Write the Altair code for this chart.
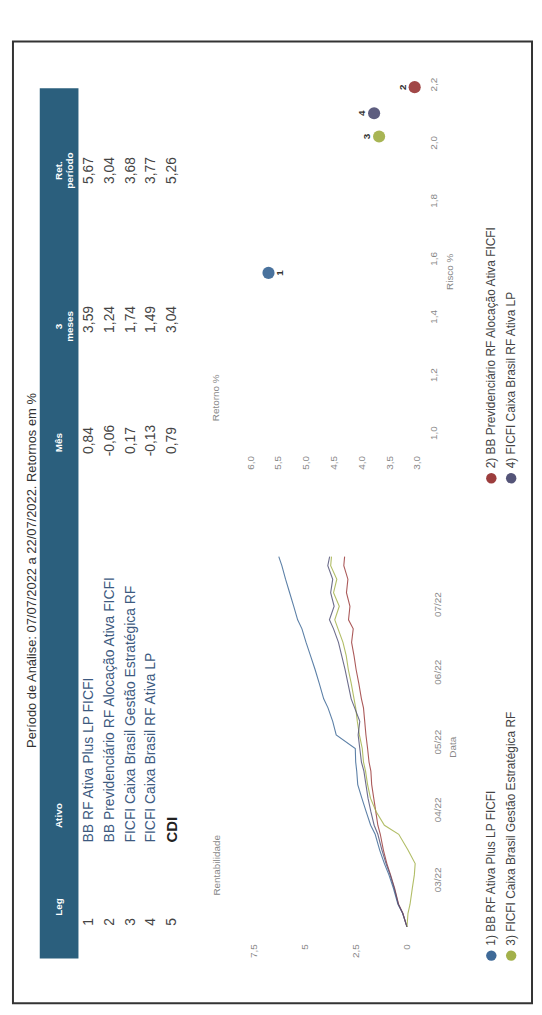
import altair as alt
import pandas as pd

# ---------------- data ----------------
series = ["1) BB RF Ativa Plus LP FICFI",
          "2) BB Previdenciário RF Alocação Ativa FICFI",
          "3) FICFI Caixa Brasil Gestão Estratégica RF",
          "4) FICFI Caixa Brasil RF Ativa LP"]
colors = ["#3f6a98", "#9c3d3d", "#a3b14b", "#545478"]

header_cols = ["Leg", "Ativo", "Mês", "3 meses", "Ret. período"]
leg = ["1", "2", "3", "4", "5"]
ativos = ["BB RF Ativa Plus LP FICFI",
          "BB Previdenciário RF Alocação Ativa FICFI",
          "FICFI Caixa Brasil Gestão Estratégica RF",
          "FICFI Caixa Brasil RF Ativa LP",
          "CDI"]
mes = ["0,84", "-0,06", "0,17", "-0,13", "0,79"]
tres_meses = ["3,59", "1,24", "1,74", "1,49", "3,04"]
ret_periodo = ["5,67", "3,04", "3,68", "3,77", "5,26"]

dates = ["2022-02-08", "2022-02-14", "2022-02-18", "2022-02-25", "2022-03-03",
         "2022-03-08", "2022-03-14", "2022-03-21", "2022-03-25", "2022-03-31",
         "2022-04-06", "2022-04-12", "2022-04-18", "2022-04-22", "2022-04-28",
         "2022-05-04", "2022-05-10", "2022-05-16", "2022-05-20", "2022-05-27",
         "2022-06-02", "2022-06-08", "2022-06-14", "2022-06-20", "2022-06-24",
         "2022-06-30", "2022-07-06", "2022-07-12", "2022-07-18", "2022-07-22"]
rent_1 = [0.00, 0.21, 0.44, 0.66, 0.88, 1.10, 1.33, 1.55, 1.77, 1.99,
          2.20, 2.40, 2.45, 2.50, 2.52, 3.45, 3.62, 3.85, 4.06, 4.28,
          4.48, 4.70, 4.92, 5.12, 5.33, 5.52, 5.72, 5.92, 6.10, 6.25]
rent_2 = [0.00, 0.20, 0.41, 0.60, 0.80, 0.98, 1.15, 1.30, 1.42, 1.52,
          1.62, 1.72, 1.76, 1.85, 1.92, 2.00, 2.06, 2.12, 2.22, 2.35,
          2.48, 2.58, 2.70, 2.62, 2.85, 2.78, 2.95, 2.88, 3.08, 3.04]
rent_3 = [0.00, -0.05, -0.15, -0.26, -0.36, -0.40, -0.05, 0.40, 1.10, 1.50,
          1.78, 1.92, 2.02, 2.12, 2.18, 2.32, 2.42, 2.50, 2.58, 2.72,
          2.86, 2.96, 3.12, 3.36, 3.52, 3.30, 3.58, 3.42, 3.72, 3.68]
rent_4 = [0.00, 0.21, 0.42, 0.62, 0.82, 1.02, 1.22, 1.42, 1.60, 1.76,
          1.90, 2.00, 2.10, 2.22, 2.30, 2.38, 2.30, 2.55, 2.72, 2.88,
          3.02, 3.18, 3.34, 3.58, 3.78, 3.55, 3.72, 3.62, 3.86, 3.77]

retorno = [5.67, 3.04, 3.68, 3.77]
risco = [1.55, 2.19, 2.02, 2.10]
point_labels = ["1", "2", "3", "4"]

rent_ticks = [0, 2.5, 5, 7.5]
retorno_ticks = [3.0, 3.5, 4.0, 4.5, 5.0, 5.5, 6.0]
risco_ticks = [1.0, 1.2, 1.4, 1.6, 1.8, 2.0, 2.2]

# ---------------- tables ----------------
W, H = 523, 969
FONT = "Liberation Sans"
cscale = alt.Scale(domain=series, range=colors)

table_df = pd.DataFrame({"row": [1, 2, 3, 4, 5], "leg": leg, "ativo": ativos,
                         "mes": mes, "tres": tres_meses, "ret": ret_periodo})
lines_df = pd.DataFrame({
    "fecha": dates * 4,
    "valor": rent_1 + rent_2 + rent_3 + rent_4,
    "serie": sum([[s] * len(dates) for s in series], []),
})
scatter_df = pd.DataFrame({"serie": series, "retorno": retorno,
                           "risco": risco, "lab": point_labels})
legend_df = pd.DataFrame({"serie": series,
                          "lrow": [i // 2 for i in range(4)],
                          "lcol": [i % 2 for i in range(4)]})


def static_text(txt, x, y, size=11, color="#555", weight="normal",
                align="center"):
    return alt.Chart(pd.DataFrame({"t": [txt]})).mark_text(
        angle=270, align=align, baseline="middle", fontSize=size,
        color=color, fontWeight=weight, lineBreak="\n", font=FONT
    ).encode(x=alt.value(x), y=alt.value(y), text="t:N")


layers = []

# title
layers.append(static_text("Período de Análise: 07/07/2022 a 22/07/2022. Retornos em %",
                          19, 533, size=13, color="#333"))

# header bar
layers.append(alt.Chart(pd.DataFrame({"a": [0]})).mark_rect(color="#2b5f7d").encode(
    x=alt.value(27), x2=alt.value(66), y=alt.value(47), y2=alt.value(924)))

header_pos = {"Leg": 872, "Ativo": 780, "Mês": 404, "3 meses": 287,
              "Ret. período": 130}
header_txt = {"Leg": "Leg", "Ativo": "Ativo", "Mês": "Mês",
              "3 meses": "3\nmeses", "Ret. período": "Ret.\nperíodo"}
for h in header_cols:
    layers.append(static_text(header_txt[h], 46, header_pos[h], size=10,
                              color="white", weight="bold"))

rowx = alt.X("row:Q", scale=alt.Scale(domain=[1, 5], range=[77, 160], nice=False, zero=False),
             axis=None)
col_specs = [("leg", 887, "center", "#444"), ("mes", 402, "center", "#444"),
             ("tres", 280, "center", "#444"), ("ret", 130, "center", "#444")]
for field, yv, al, colr in col_specs:
    layers.append(alt.Chart(table_df).mark_text(
        angle=270, align=al, baseline="middle", fontSize=14, color=colr, font=FONT
    ).encode(x=rowx, y=alt.value(yv), text=f"{field}:N"))

layers.append(alt.Chart(table_df).transform_filter("datum.ativo != 'CDI'").mark_text(
    angle=270, align="left", baseline="middle", fontSize=14, color="#3d5a80", font=FONT
).encode(x=rowx, y=alt.value(807), text="ativo:N"))
layers.append(alt.Chart(table_df).transform_filter("datum.ativo == 'CDI'").mark_text(
    angle=270, align="left", baseline="middle", fontSize=15, color="#222",
    fontWeight="bold", font=FONT
).encode(x=rowx, y=alt.value(807), text="ativo:N"))

# ---------------- line chart ----------------
def dt(y, m, d):
    return alt.DateTime(year=y, month=m, date=d)

date_ticks = [dt(2022, 3, 1), dt(2022, 4, 1), dt(2022, 5, 1),
              dt(2022, 6, 1), dt(2022, 7, 1)]

axis_style = dict(domain=False, ticks=False, tickSize=0, grid=False, title=None,
                  labelColor="#888", labelFontSize=10, labelPadding=2, labelFont=FONT)

layers.append(alt.Chart(lines_df).mark_line(strokeWidth=1.1, opacity=0.85).encode(
    x=alt.X("valor:Q",
            scale=alt.Scale(domain=[0, 7.5], range=[397, 242], nice=False, zero=False),
            axis=alt.Axis(orient="bottom", offset=-62, values=rent_ticks, format=".1~f",
                          labelAngle=270, labelAlign="right", labelBaseline="middle",
                          **axis_style)),
    y=alt.Y("fecha:T",
            scale=alt.Scale(domain=[dt(2022, 2, 8), dt(2022, 7, 22)], range=[892, 519],
                            nice=False),
            axis=alt.Axis(orient="right", offset=-102, values=date_ticks, format="%m/%y",
                          labelAngle=270, labelAlign="center", labelBaseline="top",
                          **axis_style)),
    color=alt.Color("serie:N", scale=cscale, legend=None),
    detail="serie:N",
))

# ---------------- scatter ----------------
sx = alt.X("retorno:Q",
           scale=alt.Scale(domain=[3.0, 6.0], range=[407, 239], nice=False, zero=False),
           axis=alt.Axis(orient="bottom", offset=-554, values=retorno_ticks, format=".1f",
                         labelAngle=270, labelAlign="right", labelBaseline="middle",
                         **axis_style))
sy = alt.Y("risco:Q",
           scale=alt.Scale(domain=[1.0, 2.2], range=[394, 43], nice=False, zero=False),
           axis=alt.Axis(orient="right", offset=-106, values=risco_ticks, format=".1f",
                         labelAngle=270, labelAlign="center", labelBaseline="top",
                         **axis_style))
layers.append(alt.Chart(scatter_df).mark_circle(size=150, opacity=0.95).encode(
    x=sx, y=sy, color=alt.Color("serie:N", scale=cscale, legend=None)))
sx2 = alt.X("retorno:Q", scale=alt.Scale(domain=[3.0, 6.0], range=[407, 239], nice=False, zero=False), axis=None)
sy2 = alt.Y("risco:Q", scale=alt.Scale(domain=[1.0, 2.2], range=[394, 43], nice=False, zero=False), axis=None)
layers.append(alt.Chart(scatter_df).transform_filter("datum.lab != '1'").mark_text(
    angle=270, fontSize=10, color="#333", dy=-12, font=FONT, fontWeight="bold").encode(
    x=sx2, y=sy2, text="lab:N"))
layers.append(alt.Chart(scatter_df).transform_filter("datum.lab == '1'").mark_text(
    angle=270, fontSize=10, color="#333", dy=12, font=FONT, fontWeight="bold").encode(
    x=sx2, y=sy2, text="lab:N"))

# axis titles
layers.append(static_text("Retorno %", 205, 359, size=10, color="#888"))
layers.append(static_text("Risco %", 440, 232, size=10, color="#888"))
layers.append(static_text("Rentabilidade", 206, 830, size=10, color="#888"))
layers.append(static_text("Data", 443, 711, size=10, color="#888"))

# ---------------- legend ----------------
lx = alt.X("lrow:Q", scale=alt.Scale(domain=[0, 1], range=[482, 502], nice=False, zero=False), axis=None)
ly = alt.Y("lcol:Q", scale=alt.Scale(domain=[0, 1], range=[921, 440], nice=False, zero=False), axis=None)
layers.append(alt.Chart(legend_df).mark_circle(size=110, opacity=1).encode(
    x=lx, y=ly, color=alt.Color("serie:N", scale=cscale, legend=None)))
layers.append(alt.Chart(legend_df).mark_text(
    angle=270, align="left", baseline="middle", fontSize=12, color="#444", dx=10, font=FONT
).encode(x=lx, y=ly, text="serie:N"))

chart = alt.layer(*layers).resolve_scale(
    x="independent", y="independent"
).properties(
    width=W, height=H,
    padding={"left": 5, "top": 30, "right": 2, "bottom": 1},
    background="white",
).configure(
    locale={"number": {"decimal": ",", "thousands": ".", "grouping": [3],
                       "currency": ["R$", ""]}},
    font=FONT,
    view={"stroke": "#333", "strokeWidth": 2},
)

chart.save("out.html", embed_options={"renderer": "svg", "actions": False})
